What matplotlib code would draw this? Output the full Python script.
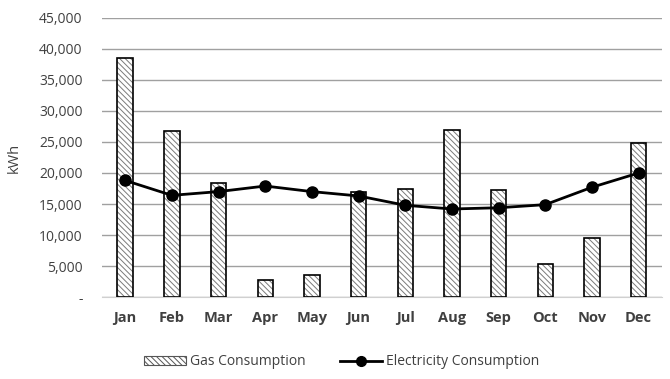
import numpy as np
import matplotlib
matplotlib.use("Agg")
import matplotlib.pyplot as plt
from matplotlib.patches import Patch
from matplotlib.lines import Line2D
from matplotlib.ticker import FuncFormatter

months = ["Jan", "Feb", "Mar", "Apr", "May", "Jun", "Jul", "Aug", "Sep", "Oct", "Nov", "Dec"]
gas = [38500, 26700, 18400, 2700, 3500, 17000, 17500, 26900, 17300, 5300, 9600, 24900]
electricity = [18800, 16400, 17000, 17900, 17000, 16300, 14800, 14200, 14400, 14900, 17700, 20000]

plt.rcParams['font.family'] = ['Open Sans', 'DejaVu Sans']
plt.rcParams['hatch.linewidth'] = 0.7
text_col = '#404040'

fig = plt.figure(figsize=(6.7, 3.79), dpi=100)
ax = fig.add_axes([0.152, 0.216, 0.836, 0.737])

x = np.arange(len(months))
# hatch in grey, outline in black
ax.bar(x, gas, width=0.33, color='white', edgecolor='#7a7a7a', hatch='\\\\\\\\\\\\', linewidth=0, zorder=2)
ax.bar(x, gas, width=0.33, fill=False, edgecolor='black', linewidth=1.2, zorder=3)
ax.plot(x, electricity, color='black', linewidth=2, marker='o', markersize=8, zorder=4)

ax.set_xlim(-0.5, len(months) - 0.5)
ax.set_ylim(0, 45000)
ax.set_yticks(np.arange(0, 45001, 5000))
ax.yaxis.set_major_formatter(FuncFormatter(lambda v, p: '-' if v == 0 else f'{int(v):,}'))
ax.set_xticks(x)
ax.set_xticklabels(months, fontweight='bold', fontsize=10.5, color=text_col)
ax.tick_params(axis='y', labelsize=10, colors=text_col, length=0, pad=14)
ax.tick_params(axis='x', length=0, pad=10)
ax.grid(axis='y', color='#a0a0a0', linewidth=1, zorder=0)
ax.set_axisbelow(True)
for s in ['top', 'right', 'left']:
    ax.spines[s].set_visible(False)
ax.spines['bottom'].set_color('#d0d0d0')
ax.set_ylabel('kWh', fontsize=10.5, color=text_col, labelpad=12)

handles = [Patch(facecolor='white', edgecolor='#555555', hatch='\\\\\\\\\\\\', linewidth=0.8),
           Line2D([0], [0], color='black', linewidth=2, marker='o', markersize=7)]
fig.legend(handles, ['Gas Consumption', 'Electricity Consumption'], loc='center',
           bbox_to_anchor=(0.51, 0.045), ncol=2, frameon=False, fontsize=10,
           labelcolor=text_col, handlelength=3.0, columnspacing=2.5, handletextpad=0.3)

fig.savefig('out.png', dpi=100)
